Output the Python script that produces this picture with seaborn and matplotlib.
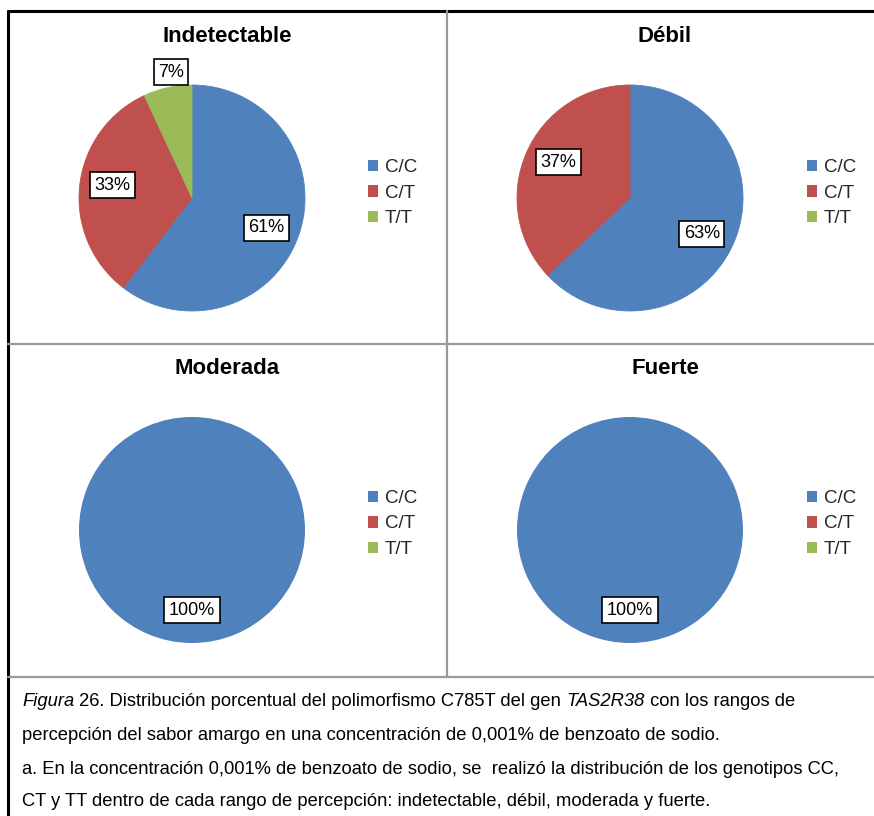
import matplotlib
matplotlib.use("Agg")
import matplotlib.pyplot as plt
import seaborn as sns
import numpy as np
from matplotlib.patches import Patch
from matplotlib.lines import Line2D

# Genotype distribution (%) per bitter-taste perception range
genotypes = ["C/C", "C/T", "T/T"]
ranges = ["Indetectable", "Débil", "Moderada", "Fuerte"]
indetectable = [61, 33, 7]
debil = [63, 37, 0]
moderada = [100, 0, 0]
fuerte = [100, 0, 0]
values = [indetectable, debil, moderada, fuerte]

sns.set_theme(style="white")
plt.rcParams["font.family"] = ["Liberation Sans", "DejaVu Sans"]
palette = sns.color_palette(["#4F81BD", "#C0504D", "#9BBB59"])

W, H = 874, 816
fig = plt.figure(figsize=(W / 100, H / 100), dpi=100)


def fx(x):
    return x / W


def fy(y):
    return 1 - y / H


# Panel layout in pixel units: pie centre, title centre, legend anchor
R = 113
panels = [
    dict(cx=192, cy=198, tx=227, ty=37, lx=368, ly=193),
    dict(cx=630, cy=198, tx=665, ty=37, lx=807, ly=193),
    dict(cx=192, cy=530, tx=227, ty=369, lx=368, ly=524),
    dict(cx=630, cy=530, tx=665, ty=369, lx=807, ly=524),
]

for name, vals, p in zip(ranges, values, panels):
    ax = fig.add_axes([fx(p["cx"] - R), fy(p["cy"] + R), 2 * R / W, 2 * R / H])
    wedges, _ = ax.pie(vals, colors=palette, startangle=90, counterclock=False,
                       wedgeprops=dict(linewidth=0))
    total = sum(vals)
    for w, v in zip(wedges, vals):
        # seal hairline gaps between neighbouring slices
        if 0 < v < total:
            w.set_edgecolor(w.get_facecolor())
            w.set_linewidth(0.6)
    ax.set_xlim(-1, 1)
    ax.set_ylim(-1, 1)
    ax.set_aspect("equal")
    ax.axis("off")
    for w, v in zip(wedges, vals):
        if v <= 0:
            continue
        ang = (w.theta1 + w.theta2) / 2
        if v < total:
            ang -= 3
        mid = np.deg2rad(ang)
        dist = 1.13 if v / total < 0.1 else 0.71
        ax.text(dist * np.cos(mid), dist * np.sin(mid), f"{v}%",
                ha="center", va="center", fontsize=13, color="black", clip_on=False,
                bbox=dict(boxstyle="square,pad=0.25", facecolor="white",
                          edgecolor="black", linewidth=1.2))
    fig.text(fx(p["tx"]), fy(p["ty"]), name, ha="center", va="center",
             fontsize=16, fontweight="bold", color="black")
    handles = [Patch(facecolor=c, edgecolor="none", label=g)
               for g, c in zip(genotypes, palette)]
    fig.legend(handles=handles, loc="center left",
               bbox_to_anchor=(fx(p["lx"]), fy(p["ly"])),
               bbox_transform=fig.transFigure, frameon=False, fontsize=13.5,
               handlelength=0.55, handleheight=0.55, handletextpad=0.35,
               labelspacing=0.45, borderpad=0, borderaxespad=0)

# Frame: black outer edges, grey panel dividers
grey = "#999999"
fig.add_artist(Line2D([fx(8), fx(874)], [fy(11), fy(11)], color="black", lw=2.2))
fig.add_artist(Line2D([fx(8), fx(8)], [fy(11), fy(816)], color="black", lw=2.2))
fig.add_artist(Line2D([fx(447), fx(447)], [fy(11), fy(677)], color=grey, lw=1.6))
fig.add_artist(Line2D([fx(8), fx(874)], [fy(344), fy(344)], color=grey, lw=1.6))
fig.add_artist(Line2D([fx(8), fx(874)], [fy(677), fy(677)], color=grey, lw=1.6))

# Caption with mixed italic runs
caption = [
    [("Figura", "italic"), (" 26. Distribución porcentual del polimorfismo C785T del gen ", "normal"),
     ("TAS2R38", "italic"), (" con los rangos de", "normal")],
    [("percepción del sabor amargo en una concentración de 0,001% de benzoato de sodio.", "normal")],
    [("a. En la concentración 0,001% de benzoato de sodio, se  realizó la distribución de los genotipos CC,", "normal")],
    [("CT y TT dentro de cada rango de percepción: indetectable, débil, moderada y fuerte.", "normal")],
]
line_y = [700, 733, 767, 800]
renderer = fig.canvas.get_renderer()
for runs, y in zip(caption, line_y):
    x = 22
    for txt, style in runs:
        t = fig.text(fx(x), fy(y), txt, ha="left", va="center_baseline", fontsize=13.2,
                     fontstyle=style, color="black")
        bb = t.get_window_extent(renderer)
        x += bb.width

fig.savefig("out.png", dpi=100, facecolor="white")
